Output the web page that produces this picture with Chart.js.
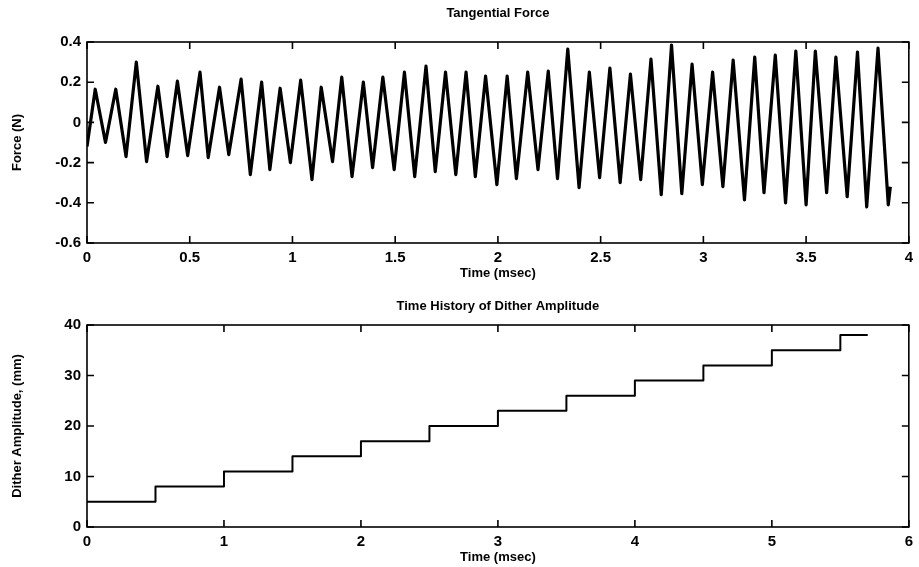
<!DOCTYPE html>
<html>
<head>
<meta charset="utf-8">
<script src="https://cdn.jsdelivr.net/npm/chart.js@4/dist/chart.umd.min.js"></script>
<style>
  body { margin: 0; background: #fff; }
  #wrap { position: relative; width: 919px; height: 567px; }
  canvas { position: absolute; left: 0; }
</style>
</head>
<body>
<div id="wrap">
  <canvas id="forceChart" width="919" height="290" style="top:0"></canvas>
  <canvas id="ditherChart" width="919" height="277" style="top:290px"></canvas>
</div>
<script>
const peakTimes = [0.04, 0.14, 0.24, 0.345, 0.44, 0.55, 0.645, 0.75, 0.85, 0.94, 1.04, 1.14, 1.24, 1.345, 1.44,
  1.545, 1.65, 1.745, 1.845, 1.94, 2.045, 2.145, 2.245, 2.34, 2.445, 2.545, 2.645, 2.745, 2.845, 2.945, 3.045, 3.145,
  3.25, 3.35, 3.45, 3.545, 3.645, 3.75, 3.85];
const peakForces = [0.165, 0.165, 0.30, 0.18, 0.205, 0.25, 0.175, 0.215, 0.20, 0.17, 0.21, 0.175, 0.225, 0.20, 0.225,
  0.25, 0.28, 0.25, 0.25, 0.23, 0.23, 0.25, 0.255, 0.365, 0.25, 0.27, 0.24, 0.315, 0.385, 0.29, 0.25, 0.31,
  0.325, 0.335, 0.355, 0.355, 0.325, 0.35, 0.37];
const troughTimes = [0.0, 0.09, 0.19, 0.29, 0.39, 0.49, 0.59, 0.69, 0.795, 0.89, 0.99, 1.095, 1.195, 1.29, 1.39, 1.495,
  1.595, 1.695, 1.795, 1.89, 1.995, 2.09, 2.195, 2.29, 2.395, 2.495, 2.595, 2.695, 2.795, 2.895, 2.995, 3.095,
  3.2, 3.295, 3.4, 3.5, 3.6, 3.7, 3.795, 3.9];
const troughForces = [-0.12, -0.10, -0.17, -0.195, -0.17, -0.165, -0.175, -0.16, -0.26, -0.235, -0.20, -0.285, -0.195, -0.27, -0.225, -0.235,
  -0.27, -0.245, -0.26, -0.27, -0.31, -0.28, -0.235, -0.28, -0.325, -0.275, -0.30, -0.285, -0.36, -0.355, -0.31, -0.32,
  -0.385, -0.35, -0.40, -0.41, -0.35, -0.37, -0.42, -0.41];
const tailTimes = [3.91];
const tailForces = [-0.32];

// dither amplitude steps
const ditherTimes = [0, 0.5, 1, 1.5, 2, 2.5, 3, 3.5, 4, 4.5, 5, 5.5, 5.7];
const ditherAmps = [5, 8, 11, 14, 17, 20, 23, 26, 29, 32, 35, 38, 38];

// tick labels
const forceTicksX = [0, 0.5, 1, 1.5, 2, 2.5, 3, 3.5, 4];
const forceTicksY = [-0.6, -0.4, -0.2, 0, 0.2, 0.4];
const ditherTicksX = [0, 1, 2, 3, 4, 5, 6];
const ditherTicksY = [0, 10, 20, 30, 40];

const FONT = 'Liberation Sans, Arial, sans-serif';

// interleave troughs and peaks into one trace
const forcePoints = [];
troughTimes.forEach((t, i) => {
  forcePoints.push({ x: t, y: troughForces[i] });
  if (i < peakTimes.length) forcePoints.push({ x: peakTimes[i], y: peakForces[i] });
});
tailTimes.forEach((t, i) => forcePoints.push({ x: t, y: tailForces[i] }));

const ditherPoints = ditherTimes.map((t, i) => ({ x: t, y: ditherAmps[i] }));

// matlab style box with inward ticks on all sides, plus the title
const matlabBox = {
  id: 'matlabBox',
  afterDraw(chart, args, opts) {
    const { ctx, chartArea: a, scales: { x, y } } = chart;
    ctx.save();
    ctx.strokeStyle = '#000';
    ctx.lineWidth = 1.6;
    ctx.strokeRect(a.left, a.top, a.right - a.left, a.bottom - a.top);
    const len = 7;
    ctx.beginPath();
    x.ticks.forEach(t => {
      const px = x.getPixelForValue(t.value);
      ctx.moveTo(px, a.bottom); ctx.lineTo(px, a.bottom - len);
      ctx.moveTo(px, a.top); ctx.lineTo(px, a.top + len);
    });
    y.ticks.forEach(t => {
      const py = y.getPixelForValue(t.value);
      ctx.moveTo(a.left, py); ctx.lineTo(a.left + len, py);
      ctx.moveTo(a.right, py); ctx.lineTo(a.right - len, py);
    });
    ctx.stroke();
    ctx.fillStyle = '#000';
    ctx.font = 'bold 13px ' + FONT;
    ctx.textAlign = 'center';
    ctx.textBaseline = 'middle';
    ctx.fillText(opts.text, (a.left + a.right) / 2, opts.y);
    ctx.restore();
  }
};

function axis(ticksArr, min, max, title, titlePad, size, horizontal) {
  return {
    type: 'linear',
    min: min,
    max: max,
    afterBuildTicks: s => { s.ticks = ticksArr.map(v => ({ value: v })); },
    afterFit: s => { if (horizontal) s.height = size; else s.width = size; },
    grid: { display: false, drawTicks: false },
    border: { display: false },
    ticks: {
      color: '#000',
      padding: horizontal ? 6 : 6,
      maxRotation: 0,
      autoSkip: false,
      font: { family: FONT, size: 15, weight: 'bold' },
      callback: v => String(v)
    },
    title: {
      display: true,
      text: title,
      color: '#000',
      padding: titlePad,
      font: { family: FONT, size: 13, weight: 'bold' }
    }
  };
}

function makeChart(id, points, stepped, xr, yr, opts) {
  return new Chart(document.getElementById(id), {
    type: 'line',
    data: {
      datasets: [{
        data: points,
        borderColor: '#000',
        borderWidth: opts.lw,
        pointRadius: 0,
        tension: 0,
        stepped: stepped,
        borderJoinStyle: 'round'
      }]
    },
    options: {
      responsive: false,
      animation: false,
      layout: { autoPadding: false, padding: opts.padding },
      plugins: {
        legend: { display: false },
        tooltip: { enabled: false },
        matlabBox: { text: opts.title, y: opts.titleY }
      },
      scales: {
        x: axis(xr.ticks, xr.min, xr.max, 'Time (msec)', { top: 0, bottom: opts.xTitlePad }, opts.xh, true),
        y: axis(yr.ticks, yr.min, yr.max, opts.ylabel, { top: 10, bottom: 0 }, 87, false)
      }
    },
    plugins: [matlabBox]
  });
}

makeChart('forceChart', forcePoints, false,
  { ticks: forceTicksX, min: 0, max: 4 },
  { ticks: forceTicksY, min: -0.6, max: 0.4 },
  { lw: 3.2, padding: { top: 42, right: 9, bottom: 2, left: 0 }, xh: 45, xTitlePad: 7,
    title: 'Tangential Force', titleY: 13, ylabel: 'Force (N)' });

makeChart('ditherChart', ditherPoints, true,
  { ticks: ditherTicksX, min: 0, max: 6 },
  { ticks: ditherTicksY, min: 0, max: 40 },
  { lw: 2, padding: { top: 35, right: 9, bottom: 2, left: 0 }, xh: 38, xTitlePad: 0,
    title: 'Time History of Dither Amplitude', titleY: 16, ylabel: 'Dither Amplitude, (mm)' });
</script>
</body>
</html>
